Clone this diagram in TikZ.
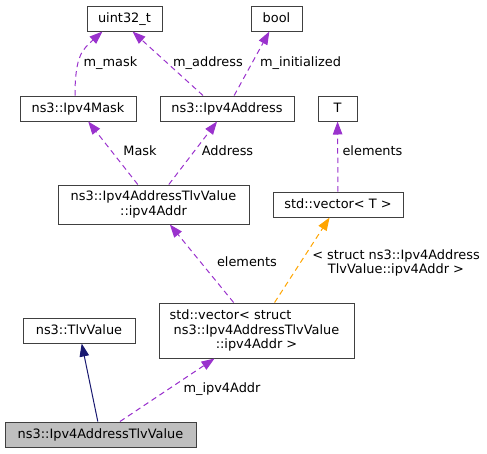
\documentclass[tikz,border=0pt]{standalone}
\usepackage{fontspec}
\setmainfont{DejaVu Sans}
\usetikzlibrary{arrows.meta}
\definecolor{grey25}{HTML}{404040}
\definecolor{grey75}{HTML}{BFBFBF}
\definecolor{orchid3}{HTML}{9A32CD}
\definecolor{midnight}{HTML}{191970}
\definecolor{tmplorange}{HTML}{FFA500}
\tikzstyle{doxy_arrow}=[line width=1pt, -{Triangle[length=13pt, width=9.5pt]}]

\begin{document}
\begin{tikzpicture}[x=1pt, y=-1pt, font=\fontsize{12.9}{14.6}\selectfont]
			\tikzset{class/.style = {shape=rectangle, draw=grey25, line width=1pt, inner sep=0pt}}
			\tikzset{single/.style = {class, text height=9.5pt, text depth=2.5pt, minimum height=25pt}}
			\tikzset{lbl/.style = {inner sep=0pt, text height=9.5pt, text depth=2.5pt}}
			\tikzset{member/.style = {doxy_arrow, orchid3, dash pattern=on 5.5pt off 4pt}}
			\tikzset{templ/.style = {doxy_arrow, tmplorange, dash pattern=on 5.5pt off 4pt}}
			\tikzset{inherit/.style = {doxy_arrow, midnight}}
			\useasboundingbox (0,0) rectangle (487,453);

			% classes
			\node[single, minimum width=75pt] (uint) at (124.5,18.5) {uint32\_t};
			\node[single, minimum width=51pt] (bool) at (276.5,18.5) {bool};
			\node[single, minimum width=116pt] (mask) at (78,108.5) {ns3::Ipv4Mask};
			\node[single, minimum width=134pt] (addr) at (227,108.5) {ns3::Ipv4Address};
			\node[single, minimum width=39pt] (tpar) at (337.5,108.5) {T};
			\node[class, align=center, minimum width=191pt, minimum height=39pt] (addrval) at (153.5,204.5) {ns3::Ipv4AddressTlvValue\\::ipv4Addr};
			\node[single, minimum width=130pt] (vecT) at (338,204.5) {std::vector< T >};
			\node[class, align=center, minimum width=195pt, minimum height=55pt] (vecS) at (256.5,330.5) {std::vector< struct\hspace*{52pt}\\ns3::Ipv4AddressTlvValue\\::ipv4Addr >};
			\node[single, minimum width=112pt] (tlv) at (79,330.5) {ns3::TlvValue};
			\node[single, minimum width=191pt, fill=grey75] (main) at (100.5,434.5) {ns3::Ipv4AddressTlvValue};

			% labels
			\node[lbl] (l_mask) at (110.5,63) {m\_mask};
			\node[lbl] (l_address) at (208,63) {m\_address};
			\node[lbl] (l_init) at (300.5,63) {m\_initialized};
			\node[lbl] (l_Mask) at (140,152) {Mask};
			\node[lbl] (l_Address) at (227.5,152) {Address};
			\node[lbl] (l_elemT) at (372.5,152) {elements};
			\node[lbl] (l_elemS) at (247,263) {elements};
			\node[align=center, inner sep=0pt] (l_templ) at (396,263) {< struct ns3::Ipv4Address\\TlvValue::ipv4Addr >};
			\node[lbl] (l_ipv4) at (222,389) {m\_ipv4Addr};

			%edges
			\draw[member] ([xshift=-3pt]mask.north) .. controls +(0,-40) and +(-20,18) .. ([xshift=-22pt]uint.south);
			\draw[member] ([xshift=-24pt]addr.north) to ([xshift=8pt]uint.south);
			\draw[member] (addr) to (bool);
			\draw[member] (addrval) to (mask);
			\draw[member] (addrval) to (addr);
			\draw[member] (vecT) to (tpar);
			\draw[member] (vecS) to (addrval);
			\draw[templ] (vecS) to (vecT);
			\draw[inherit] (main) to (tlv);
			\draw[member] (main) to (vecS);
\end{tikzpicture}
\end{document}
